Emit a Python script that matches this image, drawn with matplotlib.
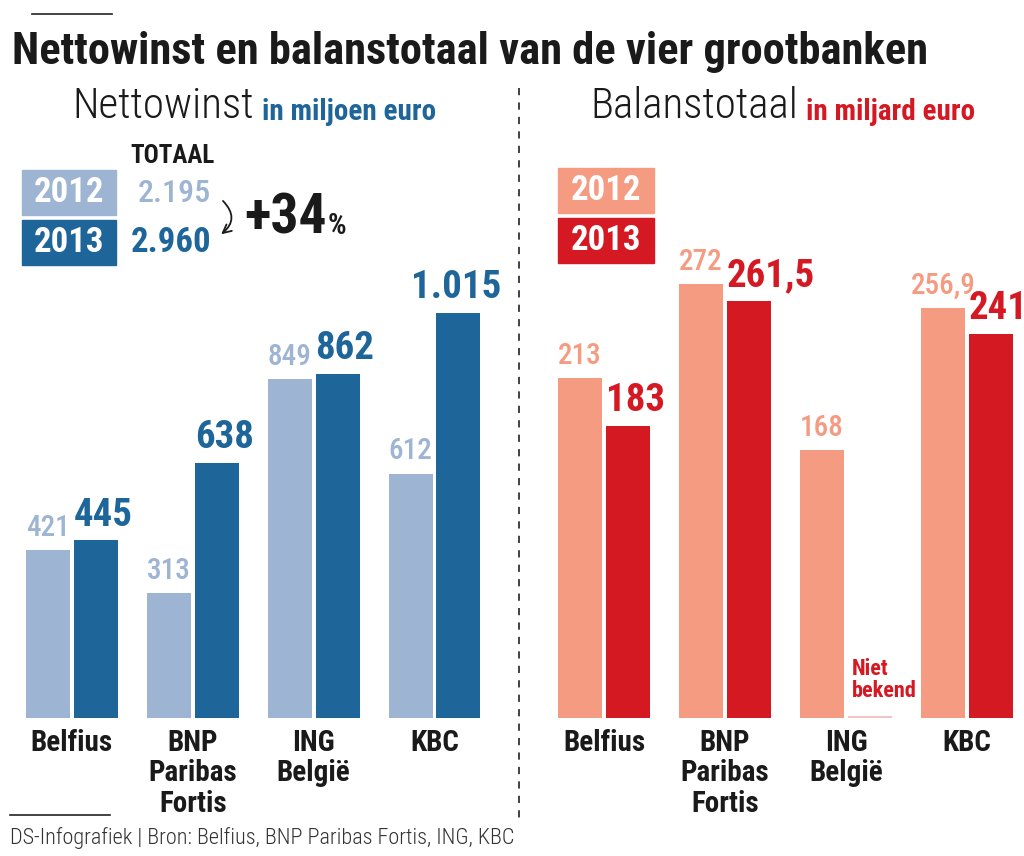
import matplotlib.pyplot as plt
from matplotlib.patches import Rectangle, FancyArrowPatch
from matplotlib.lines import Line2D
import numpy as np

plt.rcParams['font.family'] = ['Roboto Condensed', 'DejaVu Sans']

banken = ["Belfius", "BNP\nParibas\nFortis", "ING\nBelgië", "KBC"]
winst_2012 = [421, 313, 849, 612]
winst_2013 = [445, 638, 862, 1015]
balans_2012 = [213, 272, 168, 256.9]
balans_2013 = [183, 261.5, None, 241]
jaren = ["2012", "2013"]
totaal_winst = ["2.195", "2.960"]
groei_pct = "+34"

blauw = ["#9db4d2", "#1e6599"]
rood = ["#f59b82", "#d41923"]
zwart = "#1a1a1a"

W, H = 1024, 856


def px(x0, y0, x1, y1):
    # pixelbox (van boven naar onder) -> figuurfractie
    return [x0 / W, 1 - y1 / H, (x1 - x0) / W, (y1 - y0) / H]


def fx(x):
    return x / W


def fy(y):
    return 1 - y / H


def fmt(v):
    if v != int(v):
        return f"{v:.1f}".replace(".", ",")
    return f"{int(v):,}".replace(",", ".")


fig = plt.figure(figsize=(W / 100, H / 100), dpi=100)
fig.patch.set_facecolor("white")

breedte = 0.364
offset = 0.198
x = np.arange(len(banken))


def teken_paneel(ax, v2012, v2013, kleuren, ymax):
    ax.set_xlim(-0.5, 3.5)
    ax.set_ylim(0, ymax)
    for s in ax.spines.values():
        s.set_visible(False)
    ax.set_yticks([])
    ax.set_xticks(x, banken, fontsize=21, fontweight="bold", linespacing=1.1, color=zwart)
    ax.tick_params(axis="x", length=0, pad=8)
    ax.patch.set_alpha(0)

    ax.bar(x - offset, v2012, width=breedte, color=kleuren[0])
    for xi, v in zip(x, v2012):
        ax.annotate(fmt(v), (xi - offset, v), xytext=(0, 6), textcoords="offset points",
                    ha="center", va="bottom", fontsize=21, fontweight="medium",
                    color=kleuren[0])
    for xi, v in zip(x, v2013):
        if v is None:
            ax.bar(xi + offset, ymax * 0.004, width=breedte, color="#f2c4c4")
            ax.text(xi + offset - breedte / 2 + 0.03, ymax * 0.035, "Niet\nbekend",
                    ha="left", va="bottom", fontsize=16, fontweight="bold",
                    color=kleuren[1], linespacing=1.0)
            continue
        ax.bar(xi + offset, v, width=breedte, color=kleuren[1])
        if v >= 1000:
            ax.annotate(fmt(v), (xi + offset, v), xytext=(-2, 5), textcoords="offset points",
                        ha="center", va="bottom", fontsize=28, fontweight="bold",
                        color=kleuren[1])
        else:
            ax.annotate(fmt(v), (xi + offset - breedte / 2, v), xytext=(0, 5),
                        textcoords="offset points", ha="left", va="bottom",
                        fontsize=28, fontweight="bold", color=kleuren[1])


ax1 = fig.add_axes(px(11.5, 268, 495, 718))
teken_paneel(ax1, winst_2012, winst_2013, blauw, 450 / 0.399)

ax2 = fig.add_axes(px(543.5, 268, 1027.5, 718))
teken_paneel(ax2, balans_2012, balans_2013, rood, 450 / 1.595)

# titels
fig.add_artist(Line2D([fx(32), fx(112)], [fy(14), fy(14)], color="#222222", lw=1.2))
fig.text(fx(12), fy(52), "Nettowinst en balanstotaal van de vier grootbanken",
         fontsize=32, fontweight="bold", color=zwart, va="center", ha="left")

fig.text(fx(72), fy(107), "Nettowinst", fontsize=31, fontweight="light", color=zwart,
         va="center", ha="left")
fig.text(fx(262), fy(112), "in miljoen euro", fontsize=21, fontweight="bold",
         color=blauw[1], va="center", ha="left")
fig.text(fx(590), fy(107), "Balanstotaal", fontsize=31, fontweight="light", color=zwart,
         va="center", ha="left")
fig.text(fx(806), fy(112), "in miljard euro", fontsize=21, fontweight="bold",
         color=rood[1], va="center", ha="left")

# scheidingslijn
fig.add_artist(Line2D([fx(519), fx(519)], [fy(88), fy(822)], color="#333333",
                      lw=1.3, ls=(0, (4, 4))))

# legendes
for i, (jaar, y0) in enumerate(zip(jaren, [170, 220])):
    fig.add_artist(Rectangle((fx(22), fy(y0 + 45)), 94 / W, 45 / H,
                             transform=fig.transFigure, color=blauw[i]))
    fig.text(fx(69), fy(y0 + 23), jaar, fontsize=25, fontweight="bold", color="white",
             ha="center", va="center")
    fig.add_artist(Rectangle((fx(558), fy(y0 - 2 + 45)), 96 / W, 45 / H,
                             transform=fig.transFigure, color=rood[i]))
    fig.text(fx(606), fy(y0 + 21), jaar, fontsize=25, fontweight="bold", color="white",
             ha="center", va="center")

fig.text(fx(130), fy(156), "TOTAAL", fontsize=18, fontweight="bold", color=zwart,
         ha="left", va="center")
fig.text(fx(211), fy(193), totaal_winst[0], fontsize=23, fontweight="medium", color=blauw[0],
         ha="right", va="center")
fig.text(fx(211), fy(243), totaal_winst[1], fontsize=25, fontweight="bold", color=blauw[1],
         ha="right", va="center")
fig.add_artist(FancyArrowPatch(
    (fx(221), fy(199)), (fx(219), fy(236)), transform=fig.transFigure,
    connectionstyle="arc3,rad=-0.6", arrowstyle="->,head_length=6,head_width=3",
    color=zwart, lw=1.3))
t = fig.text(fx(244), fy(218), groei_pct, fontsize=40, fontweight="bold", color=zwart,
             ha="left", va="center")
fig.canvas.draw()
bb = t.get_window_extent()
fig.text((bb.x1 + 1) / W, fy(226), "%", fontsize=21, fontweight="bold", color=zwart,
         ha="left", va="center")

# bron
fig.add_artist(Line2D([fx(10), fx(110)], [fy(815), fy(815)], color="#222222", lw=1.2))
fig.text(fx(10), fy(838), "DS-Infografiek | Bron: Belfius, BNP Paribas Fortis, ING, KBC",
         fontsize=16, fontweight="light", color="#333333", ha="left", va="center")

fig.savefig("out.png", dpi=100)
